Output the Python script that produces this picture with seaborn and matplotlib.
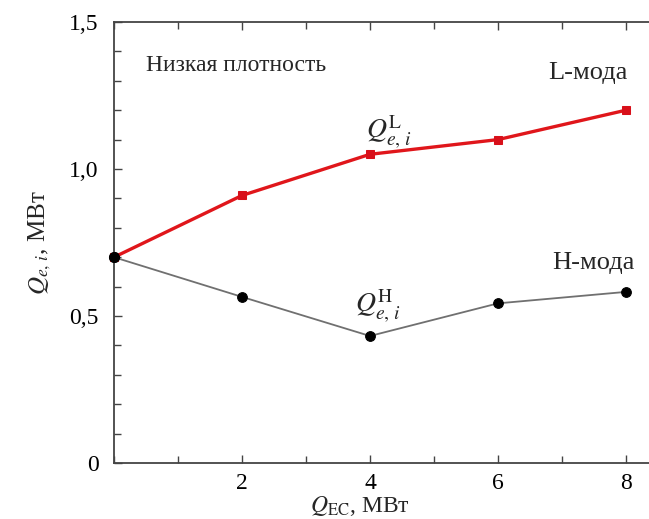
import matplotlib
matplotlib.use("Agg")
import matplotlib.pyplot as plt
from matplotlib.ticker import MultipleLocator, FixedLocator
import seaborn as sns
import pandas as pd

x_qec = [0, 2, 4, 6, 8]
q_L = [0.70, 0.91, 1.05, 1.10, 1.20]
q_H = [0.70, 0.565, 0.432, 0.543, 0.582]
x_ticks = [2, 4, 6, 8]
x_tick_labels = ["2", "4", "6", "8"]
y_ticks = [0, 0.5, 1.0, 1.5]
y_tick_labels = ["0", "0,5", "1,0", "1,5"]

sns.set_style("white")
plt.rcParams["font.family"] = ["Liberation Serif", "DejaVu Serif"]
plt.rcParams["mathtext.fontset"] = "stix"

fig = plt.figure(figsize=(6.49, 5.19), dpi=100)
ax = fig.add_axes([114/649, 1-463/519, 1-114/649, (463-22)/519])

dfL = pd.DataFrame({"x": x_qec, "y": q_L})
dfH = pd.DataFrame({"x": x_qec, "y": q_H})

sns.lineplot(data=dfH, x="x", y="y", ax=ax, color="#707070", lw=1.3,
             marker="o", markersize=7, markerfacecolor="black",
             markeredgecolor="black", clip_on=False, zorder=3)
sns.lineplot(data=dfL, x="x", y="y", ax=ax, color="#e0161b", lw=2.4,
             marker="s", markersize=5.5, markerfacecolor="#d8101a",
             markeredgecolor="#d8101a", clip_on=False, zorder=4)
ax.plot([x_qec[0]], [q_H[0]], "o", color="black", markersize=7, clip_on=False, zorder=5)

ax.set_xlim(0, 8.36)
ax.set_ylim(0, 1.5)
ax.xaxis.set_major_locator(FixedLocator(x_ticks))
ax.set_xticklabels(x_tick_labels)
ax.xaxis.set_minor_locator(MultipleLocator(1))
ax.yaxis.set_major_locator(FixedLocator(y_ticks))
ax.set_yticklabels(y_tick_labels)
ax.yaxis.set_minor_locator(MultipleLocator(0.1))

ax.tick_params(which="both", direction="in", top=True, bottom=True, left=True,
               right=False, colors="#444444", labelcolor="black", labelsize=17,
               width=1.0)
ax.tick_params(which="major", length=6)
ax.tick_params(which="minor", length=5)
ax.tick_params(axis="x", pad=7)
ax.tick_params(axis="y", pad=11)

for s in ["left", "bottom", "top"]:
    ax.spines[s].set_color("#444444")
    ax.spines[s].set_linewidth(1.3)
ax.spines["right"].set_visible(False)

ax.set_xlabel(r"$Q_{\rm EC}$, МВт", fontsize=17, labelpad=1)
ax.xaxis.set_label_coords(0.46, -0.07)
ax.set_ylabel(r"$Q_{e,\,i}$, МВт", fontsize=18, labelpad=12)

ax.text(0.5, 1.335, "Низкая плотность", fontsize=17)
ax.text(6.78, 1.305, "L-мода", fontsize=19)
ax.text(6.85, 0.66, "H-мода", fontsize=19)
ax.text(3.93, 1.105, r"$Q^{\rm L}_{e,\,i}$", fontsize=20)
ax.text(3.76, 0.515, r"$Q^{\rm H}_{e,\,i}$", fontsize=20)

fig.savefig("out.png", dpi=100)
